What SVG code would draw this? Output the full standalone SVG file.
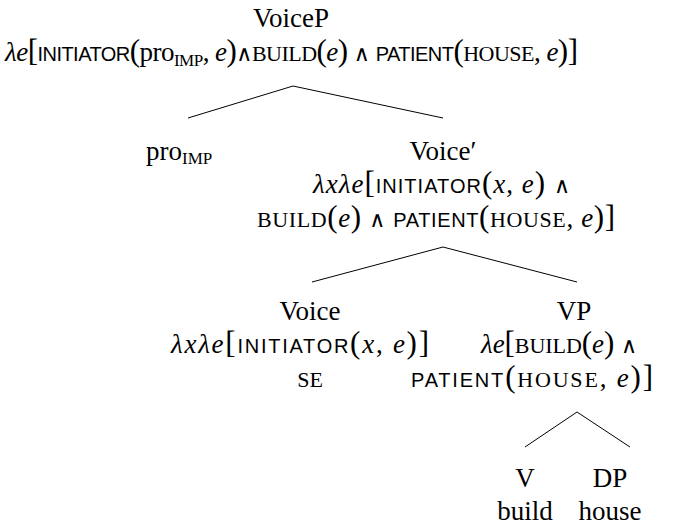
<svg xmlns="http://www.w3.org/2000/svg" width="683" height="525" viewBox="0 0 683 525">
<style>
.t{font-family:"Liberation Serif","DejaVu Serif",serif;font-size:27px;fill:#000}
.c{text-anchor:middle}
.it{font-style:italic}
.sf{font-family:"Liberation Sans","DejaVu Sans",sans-serif;font-size:20px}
.sc{font-size:22px}
.br{font-size:31px}
.sub{font-size:17px}
.and{font-family:"DejaVu Sans",sans-serif;font-size:22px}
.edge{stroke:#000;stroke-width:1;fill:none}
</style>
<rect width="683" height="525" fill="#fff"/>
<g id="connectors">
<polyline class="edge" points="188,118 293,86 443,118"/>
<polyline class="edge" points="312,282 443,247 577,282"/>
<polyline class="edge" points="525,447 577,412 630,447"/>
</g>
<g id="VoiceP">
<text class="t c" x="291" y="27">VoiceP</text>
<text class="t" x="5" y="61" textLength="573"><tspan class="it">λe</tspan><tspan class="br">[</tspan><tspan class="sf">INITIATOR</tspan><tspan class="br">(</tspan>pro<tspan class="sc sub" dy="5">IMP</tspan><tspan dy="-5">, </tspan><tspan class="it">e</tspan><tspan class="br">)</tspan><tspan class="and">∧</tspan><tspan class="sc">BUILD</tspan><tspan class="br">(</tspan><tspan class="it">e</tspan><tspan class="br">)</tspan> <tspan class="and">∧</tspan> <tspan class="sf">PATIENT</tspan><tspan class="br">(</tspan><tspan class="sc">HOUSE</tspan>, <tspan class="it">e</tspan><tspan class="br">)]</tspan></text>
</g>
<g id="pro">
<text class="t" x="146" y="160">pro<tspan class="sc sub" dy="4">IMP</tspan></text>
</g>
<g id="VoiceBar">
<text class="t c" x="443" y="160">Voice′</text>
<text class="t" x="313" y="193" textLength="257"><tspan class="it">λxλe</tspan><tspan class="br">[</tspan><tspan class="sf">INITIATOR</tspan><tspan class="br">(</tspan><tspan class="it">x</tspan>, <tspan class="it">e</tspan><tspan class="br">)</tspan> <tspan class="and">∧</tspan></text>
<text class="t" x="257" y="227" textLength="358"><tspan class="sc">BUILD</tspan><tspan class="br">(</tspan><tspan class="it">e</tspan><tspan class="br">)</tspan> <tspan class="and">∧</tspan> <tspan class="sf">PATIENT</tspan><tspan class="br">(</tspan><tspan class="sc">HOUSE</tspan>, <tspan class="it">e</tspan><tspan class="br">)]</tspan></text>
</g>
<g id="Voice">
<text class="t c" x="310" y="320">Voice</text>
<text class="t" x="171" y="353" textLength="258"><tspan class="it">λxλe</tspan><tspan class="br">[</tspan><tspan class="sf">INITIATOR</tspan><tspan class="br">(</tspan><tspan class="it">x</tspan>, <tspan class="it">e</tspan><tspan class="br">)]</tspan></text>
<text class="t c sc" x="310" y="387">SE</text>
</g>
<g id="VP">
<text class="t c" x="574" y="320">VP</text>
<text class="t" x="481" y="353" textLength="156"><tspan class="it">λe</tspan><tspan class="br">[</tspan><tspan class="sc">BUILD</tspan><tspan class="br">(</tspan><tspan class="it">e</tspan><tspan class="br">)</tspan> <tspan class="and">∧</tspan></text>
<text class="t" x="411" y="387" textLength="242"><tspan class="sf">PATIENT</tspan><tspan class="br">(</tspan><tspan class="sc">HOUSE</tspan>, <tspan class="it">e</tspan><tspan class="br">)]</tspan></text>
</g>
<g id="V">
<text class="t c" x="525" y="487">V</text>
<text class="t c" x="525" y="520">build</text>
</g>
<g id="DP">
<text class="t c" x="610" y="487">DP</text>
<text class="t c" x="610" y="520">house</text>
</g>
</svg>
